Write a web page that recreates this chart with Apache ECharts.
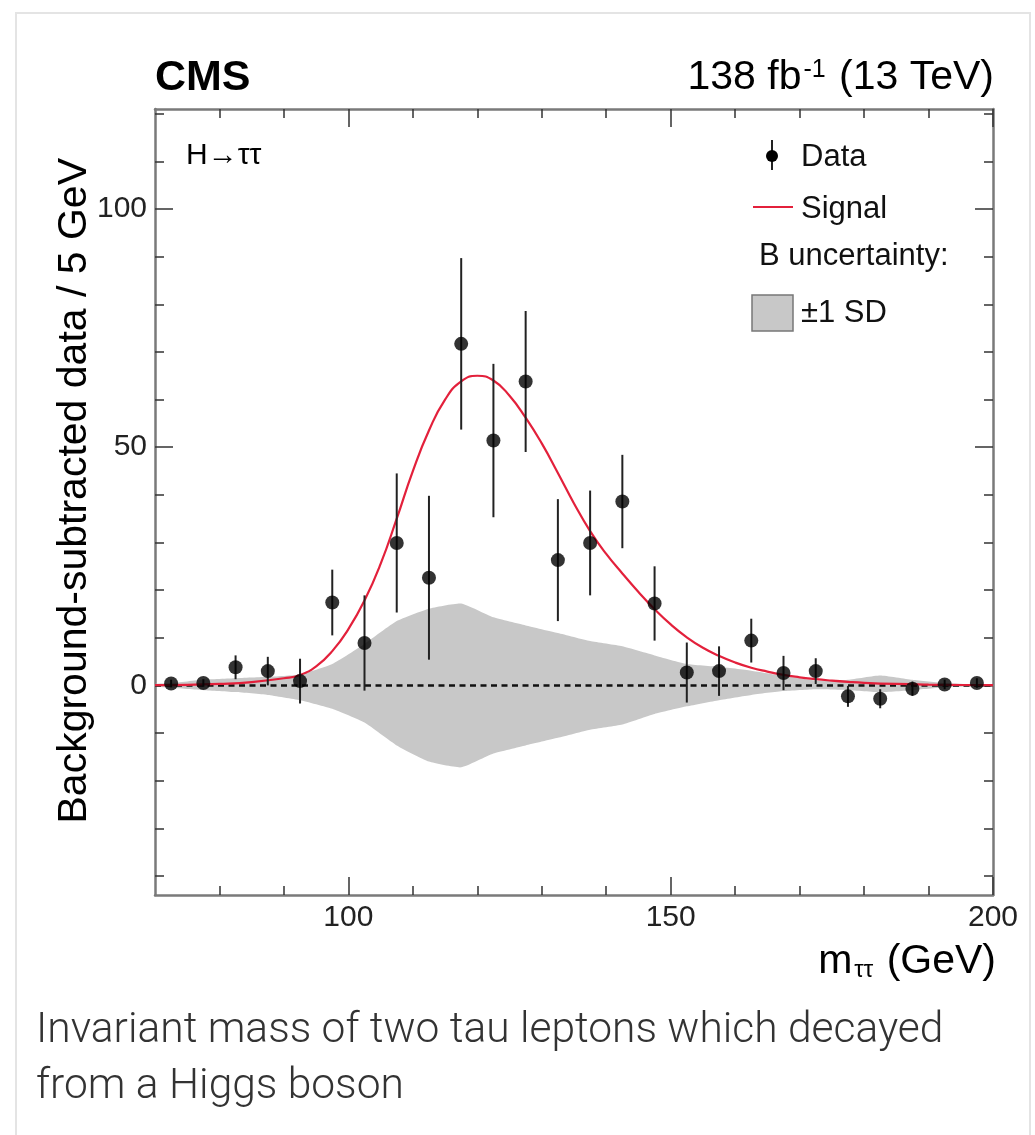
<!DOCTYPE html>
<html>
<head>
<meta charset="utf-8">
<script src="https://cdn.jsdelivr.net/npm/echarts@6/dist/echarts.min.js"></script>
<style>
html,body{margin:0;padding:0;background:#fff;}
#chart{width:1035px;height:1135px;}
</style>
</head>
<body>
<div id="chart"></div>
<script>
// ---- Data ----
const massBins = [72.5, 77.5, 82.5, 87.5, 92.5, 97.5, 102.5, 107.5, 112.5, 117.5, 122.5, 127.5, 132.5,
                  137.5, 142.5, 147.5, 152.5, 157.5, 162.5, 167.5, 172.5, 177.5, 182.5, 187.5, 192.5, 197.5];
const dataValues = [0.4, 0.5, 3.8, 3.0, 0.9, 17.4, 8.9, 29.9, 22.6, 71.7, 51.4, 63.8, 26.3,
                    29.9, 38.6, 17.2, 2.7, 3.0, 9.4, 2.6, 3.0, -2.3, -2.8, -0.7, 0.2, 0.5];
const dataErrors = [0.8, 0.8, 2.5, 3.0, 4.7, 6.9, 10.0, 14.6, 17.2, 18.0, 16.1, 14.8, 12.8,
                    11.0, 9.8, 7.8, 6.3, 5.2, 4.6, 3.6, 2.7, 2.2, 2.0, 1.5, 1.0, 1.0];

const signalMass = [70, 75, 80, 85, 90, 92.5, 95, 97.5, 100, 102.5, 105, 107.5, 110, 112.5, 115, 117.5,
                    120, 122.5, 125, 127.5, 130, 132.5, 135, 137.5, 140, 142.5, 145, 147.5, 150, 152.5,
                    155, 157.5, 160, 162.5, 165, 167.5, 170, 172.5, 175, 177.5, 180, 185, 190, 195, 200];
const signalValues = [0.05, 0.1, 0.3, 0.7, 1.5, 2.2, 4.0, 7.2, 11.8, 17.8, 25.5, 35.0, 45.0, 53.5, 60.0, 63.8,
                      65.0, 64.0, 60.8, 56.2, 50.8, 44.6, 38.2, 32.4, 27.6, 23.5, 19.6, 16.0, 12.8, 10.1,
                      7.9, 6.2, 4.8, 3.7, 2.9, 2.2, 1.7, 1.3, 1.0, 0.75, 0.55, 0.3, 0.15, 0.08, 0.04];

const bandMass = [70, 72.5, 77.5, 82.5, 87.5, 92.5, 97.5, 102.5, 107.5, 112.5, 117.5, 122.5, 127.5, 132.5,
                  137.5, 142.5, 147.5, 152.5, 157.5, 162.5, 167.5, 172.5, 177.5, 182.5, 187.5, 192.5, 197.5, 200];
const bandUp = [0.3, 0.5, 1.2, 1.5, 1.8, 2.3, 4.5, 8.7, 13.5, 16.1, 17.2, 14.3, 12.6, 11.0,
                9.3, 8.2, 6.3, 4.5, 3.9, 3.1, 2.0, 1.0, 1.2, 2.1, 1.2, 0.5, 0.2, 0.2];
const bandDown = [-0.3, -0.5, -1.0, -1.4, -2.0, -3.1, -4.9, -7.8, -12.6, -16.0, -17.2, -14.3, -12.6, -11.0,
                  -9.3, -8.2, -6.0, -4.4, -3.1, -2.0, -1.2, -0.8, -1.0, -1.4, -1.0, -0.4, -0.2, -0.2];

const xMajorTicks = [100, 150, 200];
const xMinorTicks = [80, 90, 110, 120, 130, 140, 160, 170, 180, 190];
const yMajorTicks = [0, 50, 100];
const yMinorTicks = [-40, -30, -20, -10, 10, 20, 30, 40, 60, 70, 80, 90, 110, 120];

// ---- Styles ----
const FONT = '"Liberation Sans", Arial, Helvetica, sans-serif';
const FRAME = '#7a7a7a';
const TICK = '#333';
const RED = '#e3203b';

const chart = echarts.init(document.getElementById('chart'), null, {renderer: 'canvas'});

function xAxisDef(pos, ticks, len, showLine, labels) {
  return {
    type: 'value', position: pos, min: 70, max: 200,
    axisLine: {show: showLine, onZero: false, lineStyle: {color: FRAME, width: 2.5}},
    axisTick: {show: true, inside: true, length: len, customValues: ticks, lineStyle: {color: TICK, width: 1.5}},
    axisLabel: labels ? {show: true, customValues: labels, fontFamily: FONT, fontSize: 30, color: '#222', margin: 8}
                      : {show: false},
    splitLine: {show: false}
  };
}
function yAxisDef(pos, ticks, len, showLine, labels) {
  return {
    type: 'value', position: pos, min: -44, max: 121,
    axisLine: {show: showLine, onZero: false, lineStyle: {color: FRAME, width: 2.5}},
    axisTick: {show: true, inside: true, length: len, customValues: ticks, lineStyle: {color: TICK, width: 1.5}},
    axisLabel: labels ? {show: true, customValues: labels, fontFamily: FONT, fontSize: 30, color: '#222', margin: 8}
                      : {show: false},
    splitLine: {show: false}
  };
}

const option = {
  backgroundColor: '#fff',
  animation: false,
  grid: {left: 155, right: 42, top: 109, bottom: 240, containLabel: false},
  xAxis: [
    xAxisDef('bottom', xMajorTicks, 18, true, xMajorTicks),
    xAxisDef('bottom', xMinorTicks, 9, false, null),
    xAxisDef('top', xMajorTicks, 18, true, null),
    xAxisDef('top', xMinorTicks, 9, false, null)
  ],
  yAxis: [
    yAxisDef('left', yMajorTicks, 18, true, yMajorTicks),
    yAxisDef('left', yMinorTicks, 9, false, null),
    yAxisDef('right', yMajorTicks, 18, true, null),
    yAxisDef('right', yMinorTicks, 9, false, null)
  ],
  series: [
    {
      name: '±1 SD', type: 'custom', z: 1, silent: true,
      data: bandMass.map((m, i) => [m, bandDown[i], bandUp[i]]),
      encode: {x: 0, y: [1, 2]},
      renderItem: function (params, api) {
        if (params.dataIndex !== 0) return null;
        const upper = bandMass.map((m, i) => api.coord([m, bandUp[i]]));
        const lower = bandMass.map((m, i) => api.coord([m, bandDown[i]])).reverse();
        return {type: 'polygon', shape: {points: upper.concat(lower), smooth: 0.15},
                style: {fill: '#c8c8c8', stroke: null}};
      }
    },
    {
      name: 'zero', type: 'line', data: [[70, 0], [200, 0]], symbol: 'none',
      lineStyle: {color: '#111', width: 2.5, type: [6, 4.5]}, silent: true, z: 2
    },
    {
      name: 'Signal', type: 'line', smooth: true,
      data: signalMass.map((m, i) => [m, signalValues[i]]),
      symbol: 'none', lineStyle: {color: RED, width: 2.2}, z: 3
    },
    {
      name: 'errors', type: 'custom', z: 4,
      data: massBins.map((m, i) => [m, dataValues[i] - dataErrors[i], dataValues[i] + dataErrors[i]]),
      encode: {x: 0, y: [1, 2]},
      renderItem: function (params, api) {
        const p1 = api.coord([api.value(0), api.value(1)]);
        const p2 = api.coord([api.value(0), api.value(2)]);
        return {type: 'line', shape: {x1: p1[0], y1: p1[1], x2: p2[0], y2: p2[1]},
                style: {stroke: '#222', lineWidth: 2}};
      }
    },
    {
      name: 'Data', type: 'scatter', z: 5,
      data: massBins.map((m, i) => [m, dataValues[i]]),
      symbol: 'circle', symbolSize: 14, itemStyle: {color: '#000'}
    }
  ],
  graphic: [
    {type: 'rect', shape: {x: 16, y: 13, width: 1014, height: 1200},
     style: {fill: 'none', stroke: '#e4e4e4', lineWidth: 2}, silent: true, z: -10},
    {type: 'text', x: 155, y: 78, style: {text: 'CMS', font: 'bold 43px ' + FONT, fill: '#000',
      align: 'left', verticalAlign: 'middle', textAlign: 'left', textVerticalAlign: 'middle'}},
    {type: 'text', x: 994, y: 78, style: {
      text: '138 fb{sup|-1} (13 TeV)', font: '41px ' + FONT, fill: '#000',
      align: 'right', verticalAlign: 'middle', textAlign: 'right', textVerticalAlign: 'middle',
      rich: {sup: {font: '25px ' + FONT, fill: '#000', verticalAlign: 'top', padding: [0, 2, 14, 2]}}}},
    {type: 'text', x: 186, y: 156, style: {text: 'H→ττ', font: '30px ' + FONT, fill: '#000',
      align: 'left', verticalAlign: 'middle', textAlign: 'left', textVerticalAlign: 'middle'}},
    // legend
    {type: 'line', shape: {x1: 772, y1: 140, x2: 772, y2: 170}, style: {stroke: '#222', lineWidth: 2}},
    {type: 'circle', shape: {cx: 772, cy: 156, r: 6}, style: {fill: '#000'}},
    {type: 'text', x: 801, y: 157, style: {text: 'Data', font: '31px ' + FONT, fill: '#111',
      align: 'left', verticalAlign: 'middle', textAlign: 'left', textVerticalAlign: 'middle'}},
    {type: 'line', shape: {x1: 753, y1: 207, x2: 793, y2: 207}, style: {stroke: RED, lineWidth: 2}},
    {type: 'text', x: 801, y: 209, style: {text: 'Signal', font: '31px ' + FONT, fill: '#111',
      align: 'left', verticalAlign: 'middle', textAlign: 'left', textVerticalAlign: 'middle'}},
    {type: 'text', x: 759, y: 256, style: {text: 'B uncertainty:', font: '31px ' + FONT, fill: '#111',
      align: 'left', verticalAlign: 'middle', textAlign: 'left', textVerticalAlign: 'middle'}},
    {type: 'rect', shape: {x: 752, y: 295, width: 41, height: 36},
     style: {fill: '#c8c8c8', stroke: '#777', lineWidth: 1.5}},
    {type: 'text', x: 801, y: 313, style: {text: '±1 SD', font: '31px ' + FONT, fill: '#111',
      align: 'left', verticalAlign: 'middle', textAlign: 'left', textVerticalAlign: 'middle'}},
    // axis titles
    {type: 'text', x: 75, y: 158, rotation: Math.PI / 2, style: {
      text: 'Background-subtracted data / 5 GeV', font: '41px ' + FONT, fill: '#000',
      align: 'right', verticalAlign: 'middle', textAlign: 'right', textVerticalAlign: 'middle'}},
    {type: 'text', x: 996, y: 962, style: {
      text: 'm{sub|ττ} (GeV)', font: '41px ' + FONT, fill: '#000',
      align: 'right', verticalAlign: 'middle', textAlign: 'right', textVerticalAlign: 'middle',
      rich: {sub: {font: '24px ' + FONT, fill: '#000', verticalAlign: 'bottom', padding: [12, 2, 0, 2]}}}},
    // caption
    {type: 'text', x: 36, y: 1031, style: {
      text: 'Invariant mass of two tau leptons which decayed', font: '300 42.5px Roboto', fill: '#333',
      align: 'left', verticalAlign: 'middle', textAlign: 'left', textVerticalAlign: 'middle'}},
    {type: 'text', x: 36, y: 1087, style: {
      text: 'from a Higgs boson', font: '300 42.5px Roboto', fill: '#333',
      align: 'left', verticalAlign: 'middle', textAlign: 'left', textVerticalAlign: 'middle'}}
  ]
};
chart.setOption(option);
</script>
</body>
</html>
